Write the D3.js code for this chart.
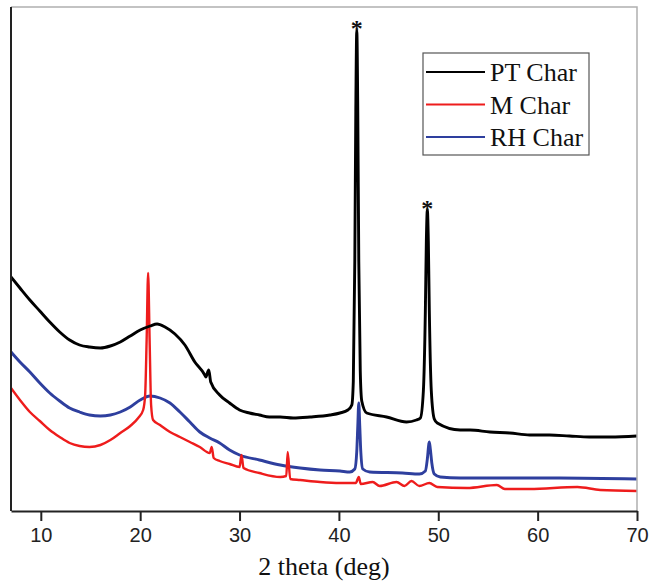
<!DOCTYPE html>
<html>
<head>
<meta charset="utf-8">
<script src="https://cdn.jsdelivr.net/npm/d3@7"></script>
<style>
    body { margin: 0; background: #fff; }
    .tick text { font-family: "Liberation Sans", Arial, sans-serif; font-size: 20px; fill: #222; }
    .axisTitle, .legendText, .star { font-family: "Liberation Serif", "Times New Roman", serif; fill: #111; }
</style>
</head>
<body>
<div id="chart"></div>
<script>
// 2 theta (deg) values and intensities (a.u.)
var ptTheta = [7.0, 7.9, 8.9, 9.9, 10.9, 11.9, 12.9, 13.9, 14.9, 16.0, 17.0, 18.0, 19.0, 20.0, 21.0, 21.7, 22.5, 23.5, 24.5, 25.5, 26.5, 26.6, 26.9, 27.1, 28.0, 29.0, 30.0, 31.0, 32.0, 33.0, 34.1, 35.4, 37.1, 39.1, 40.1, 40.9, 41.3, 41.45, 41.6, 41.7, 41.8, 41.9, 42.0, 42.15, 42.3, 42.8, 44.8, 46.8, 47.8, 48.2, 48.5, 48.7, 48.8, 48.9, 49.0, 49.1, 49.3, 49.6, 49.9, 52.2, 53.2, 55.2, 57.2, 59.2, 61.2, 63.2, 65.2, 67.3, 70.0];
var ptValues = [234, 223, 211, 200, 189, 179, 171, 166, 164, 163, 165, 169, 175, 181, 185, 187, 184, 177, 166, 149, 136, 134, 141, 129, 116, 108, 101, 98, 96, 94, 94, 93, 94, 96, 98, 101, 106, 130, 250, 400, 481, 400, 250, 140, 110, 98, 94, 89, 91, 93, 120, 200, 270, 301, 270, 200, 120, 92, 88, 81, 81, 79, 78, 76, 76, 75, 74, 74, 75];

var mTheta = [7.0, 7.9, 8.9, 9.9, 10.9, 11.9, 12.9, 13.9, 14.9, 16.0, 17.0, 18.0, 19.0, 19.8, 20.3, 20.5, 20.65, 20.8, 20.95, 21.1, 21.3, 22.0, 23.0, 24.0, 25.0, 26.0, 27.0, 27.2, 27.4, 28.0, 29.0, 30.0, 30.2, 30.4, 32.0, 34.1, 34.7, 34.85, 35.1, 36.1, 38.1, 40.1, 41.7, 42.0, 42.2, 43.4, 44.1, 45.8, 46.6, 47.3, 48.1, 49.1, 49.9, 52.9, 55.9, 56.7, 59.2, 64.0, 66.3, 70.0];
var mValues = [123, 111, 99, 90, 81, 74, 68, 65, 64, 66, 71, 78, 85, 93, 101, 116, 171, 238, 171, 106, 91, 86, 79, 74, 69, 64, 58, 64, 53, 50, 47, 44, 56, 43, 38, 34, 35, 59, 32, 31, 29, 28, 28, 34, 27, 29, 25, 29, 25, 30, 25, 28, 24, 23, 26, 22, 22, 24, 21, 20];

var rhTheta = [7.0, 7.9, 8.9, 9.9, 10.9, 11.9, 12.9, 13.9, 14.9, 16.0, 17.0, 18.0, 19.0, 20.0, 21.0, 22.0, 23.0, 24.0, 25.0, 26.0, 27.0, 28.0, 29.0, 30.0, 32.0, 34.1, 36.1, 38.1, 40.1, 41.1, 41.6, 41.8, 41.9, 42.0, 42.1, 42.2, 42.4, 43.1, 46.4, 48.1, 48.7, 48.9, 49.05, 49.1, 49.2, 49.35, 49.6, 50.2, 52.2, 56.2, 62.2, 70.0];
var rhValues = [159, 149, 139, 128, 118, 110, 103, 99, 96, 95, 96, 99, 104, 111, 115, 113, 108, 99, 89, 79, 73, 68, 61, 56, 51, 46, 43, 41, 40, 39, 42, 60, 85, 108, 85, 60, 42, 39, 38, 37, 40, 52, 67, 69, 62, 48, 37, 34, 33, 33, 33, 32];

var seriesNames = ["PT Char", "M Char", "RH Char"];
var seriesColors = ["#000000", "#ee1c1c", "#2e3f9e"];
var xTicks = [10, 20, 30, 40, 50, 60, 70];

// peaks marked with an asterisk (2 theta, intensity)
var starTheta = [41.8, 48.9];
var starValues = [481, 301];

var width = 650, height = 586;
var margin = { top: 7, right: 13, bottom: 75, left: 11 };
var svg, x, y, innerW, innerH;

function init() {

    innerW = width - margin.left - margin.right;
    innerH = height - margin.top - margin.bottom;

    svg = d3.select("#chart").append("svg")
        .attr("width", width)
        .attr("height", height);

    var g = svg.append("g")
        .attr("transform", "translate(" + margin.left + "," + margin.top + ")");

    x = d3.scaleLinear().domain([7, 70]).range([0, innerW]);
    y = d3.scaleLinear().domain([0, 504]).range([innerH, 0]);

    g.append("clipPath").attr("id", "plotClip")
        .append("rect").attr("width", innerW).attr("height", innerH);

    drawLines(g);
    drawFrame(g);
    drawLegend(g);
}

function drawLines(g) {

    var line = d3.line()
        .x(function (d) { return x(d[0]); })
        .y(function (d) { return y(d[1]); })
        .curve(d3.curveMonotoneX);

    var sets = [
        d3.zip(ptTheta, ptValues),
        d3.zip(mTheta, mValues),
        d3.zip(rhTheta, rhValues)
    ];
    var widths = [2.9, 2.4, 2.9];

    var lines = g.append("g").attr("clip-path", "url(#plotClip)");
    // draw blue, then red, then black on top like the original plot order
    [2, 1, 0].forEach(function (i) {
        lines.append("path")
            .datum(sets[i])
            .attr("fill", "none")
            .attr("stroke", seriesColors[i])
            .attr("stroke-width", widths[i])
            .attr("stroke-linejoin", "round")
            .attr("d", line);
    });

    // asterisks over the PT Char peaks
    g.selectAll(".star")
        .data(d3.zip(starTheta, starValues))
        .enter().append("text")
        .attr("class", "star")
        .attr("x", function (d) { return x(d[0]); })
        .attr("y", function (d) { return y(d[1]) + 6; })
        .attr("text-anchor", "middle")
        .style("font-size", "24px")
        .style("font-weight", "bold")
        .text("*");
}

function drawFrame(g) {

    // light top / right border
    g.append("path")
        .attr("d", "M0,0H" + innerW + "V" + innerH)
        .attr("fill", "none")
        .attr("stroke", "#b0b0b0")
        .attr("stroke-width", 1.5);

    var xAxis = d3.axisBottom(x)
        .tickValues(xTicks)
        .tickSize(10)
        .tickSizeOuter(0)
        .tickPadding(7);

    var ax = g.append("g")
        .attr("transform", "translate(0," + innerH + ")")
        .call(xAxis);
    ax.select(".domain").attr("stroke", "#222").attr("stroke-width", 2);
    ax.selectAll(".tick line").attr("stroke", "#222").attr("stroke-width", 2);

    // left spine
    g.append("line")
        .attr("x1", 0).attr("x2", 0)
        .attr("y1", 0).attr("y2", innerH)
        .attr("stroke", "#222")
        .attr("stroke-width", 2);

    g.append("text")
        .attr("class", "axisTitle")
        .attr("x", innerW / 2)
        .attr("y", innerH + 64)
        .attr("text-anchor", "middle")
        .style("font-size", "26px")
        .text("2 theta (deg)");
}

function drawLegend(g) {

    var lg = g.append("g")
        .attr("transform", "translate(" + (423 - margin.left) + "," + (53 - margin.top) + ")");

    lg.append("rect")
        .attr("width", 166)
        .attr("height", 102)
        .attr("fill", "#fff")
        .attr("stroke", "#555")
        .attr("stroke-width", 1.2);

    var rows = lg.selectAll(".legendRow")
        .data(seriesNames)
        .enter().append("g")
        .attr("class", "legendRow")
        .attr("transform", function (d, i) { return "translate(0," + (19 + i * 32.5) + ")"; });

    rows.append("line")
        .attr("x1", 3).attr("x2", 62)
        .attr("stroke", function (d, i) { return seriesColors[i]; })
        .attr("stroke-width", 1.8);

    rows.append("text")
        .attr("class", "legendText")
        .attr("x", 67)
        .attr("y", 9)
        .style("font-size", "26px")
        .text(function (d) { return d; });
}

window.onload = init;
</script>
</body>
</html>
